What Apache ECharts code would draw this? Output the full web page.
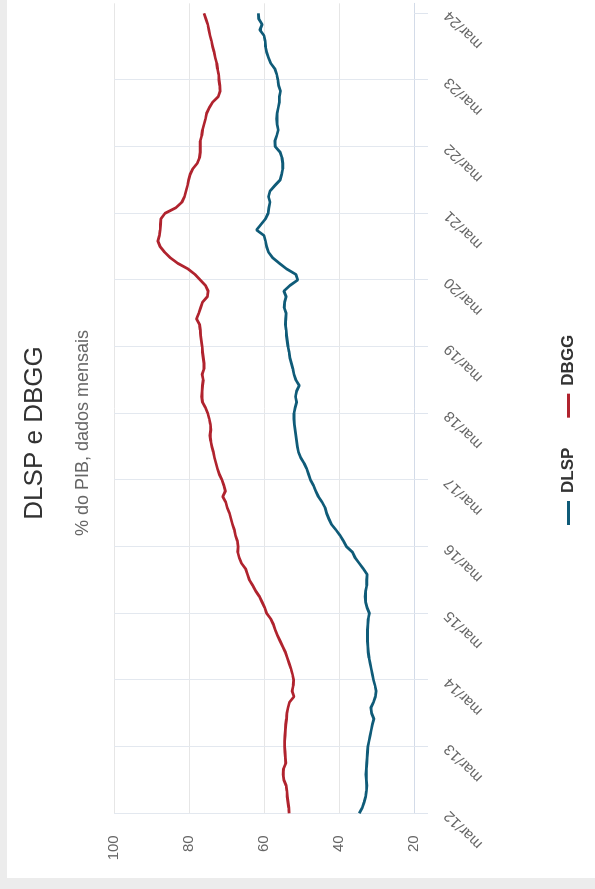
<!DOCTYPE html>
<html>
<head>
<meta charset="utf-8">
<script src="https://cdn.jsdelivr.net/npm/echarts@6/dist/echarts.min.js"></script>
<style>
  html, body { margin: 0; padding: 0; width: 595px; height: 889px; overflow: hidden; background: #ececec; }
  /* the chart is laid out landscape and turned a quarter turn to stand upright */
  #wrap { position: absolute; left: 0; top: 0; width: 889px; height: 595px; background: #ececec;
          transform-origin: 0 0; transform: translateY(889px) rotate(-90deg); }
  #panel { position: absolute; left: 11px; top: 7px; width: 878px; height: 588px; background: #fff; }
  #chart { position: absolute; left: 0; top: 0; width: 889px; height: 595px; }
</style>
</head>
<body>
<div id="wrap"><div id="panel"></div><div id="chart"></div></div>
<script>
// Year ticks (one every 12 months, starting March 2012)
const tickLabels = ['mar/12', 'mar/13', 'mar/14', 'mar/15', 'mar/16', 'mar/17', 'mar/18',
                    'mar/19', 'mar/20', 'mar/21', 'mar/22', 'mar/23', 'mar/24'];
const valueTicks = [20, 40, 60, 80, 100];

// Monthly series, % of GDP, Mar/2012 .. Mar/2024
const dlsp = [
  34.6, 33.8, 33.3, 32.9, 32.7, 32.6, 32.7, 32.8, 32.7, 32.6, 32.5, 32.4,
  32.3, 32.0, 31.7, 31.4, 31.1, 30.7, 31.3, 31.5, 30.8, 30.3, 30.1, 30.4,
  30.8, 31.1, 31.4, 31.7, 32.0, 32.2, 32.3, 32.4, 32.4, 32.4, 32.3, 32.2,
  31.9, 32.5, 32.9, 33.0, 32.9, 32.6, 32.6, 32.5, 33.5, 34.6, 35.7, 36.4,
  38.0, 38.8, 39.7, 40.8, 42.0, 42.7, 43.3, 43.7, 44.5, 45.5, 46.2, 46.8,
  47.6, 48.1, 48.6, 49.3, 50.2, 50.8, 51.1, 51.3, 51.5, 51.7, 51.9, 52.0,
  52.0, 51.7, 51.3, 51.6, 51.3, 50.6, 51.5, 52.0, 52.3, 52.7, 53.1, 53.3,
  53.6, 53.8, 54.0, 54.1, 54.3, 54.2, 54.1, 54.6, 54.5, 54.1, 54.7, 53.1,
  51.0, 51.5, 54.0, 55.9, 57.7, 58.8, 59.3, 59.6, 60.0, 62.0, 60.8, 59.6,
  58.9, 58.7, 58.4, 58.8, 58.4, 57.1, 55.7, 55.3, 55.0, 55.0, 55.2, 55.7,
  57.0, 57.1, 56.6, 56.2, 56.5, 56.6, 56.5, 56.2, 55.9, 55.9, 55.6, 56.1,
  56.3, 56.6, 57.1, 58.2, 58.8, 59.3, 59.6, 59.7, 60.0, 61.1, 60.5, 61.4,
  61.5
];
const dbgg = [
  53.3, 53.4, 53.6, 53.8, 53.9, 54.1, 54.7, 54.9, 54.8, 54.2, 54.3, 54.4,
  54.5, 54.5, 54.4, 54.3, 54.2, 54.0, 53.9, 53.6, 53.2, 52.0, 52.5, 52.2,
  52.1, 52.4, 52.8, 53.3, 53.8, 54.3, 55.0, 55.7, 56.4, 57.0, 57.5, 58.2,
  59.3, 59.8, 60.5, 61.2, 62.2, 63.0, 63.9, 64.4, 64.9, 66.0, 66.6, 67.0,
  66.9, 67.1, 67.6, 67.9, 68.4, 68.8, 69.2, 69.8, 70.2, 71.0, 70.3, 70.7,
  71.2, 71.9, 72.4, 72.8, 73.2, 73.5, 73.9, 74.2, 74.4, 74.2, 74.3, 74.6,
  75.0, 75.6, 76.4, 76.6, 76.5, 76.4, 76.2, 76.5, 76.0, 76.0, 76.2, 76.4,
  76.5, 76.7, 76.9, 77.0, 77.2, 78.0, 77.4, 76.9, 76.4, 75.1, 74.9, 75.6,
  77.0, 78.4, 80.3, 83.0, 85.0, 86.5, 87.7, 88.3, 87.9, 87.7, 87.6, 87.5,
  86.4, 83.5, 81.9, 81.2, 80.8, 80.4, 80.1, 79.7, 79.0, 77.8, 77.2, 77.0,
  77.0, 77.0, 76.6, 76.4, 76.0, 75.6, 75.3, 74.6, 73.7, 72.2, 71.7, 71.8,
  72.0, 72.1, 72.4, 72.6, 73.0, 73.3, 73.7, 74.0, 74.4, 74.7, 75.0, 75.5,
  76.0
];

const FONT = '"Liberation Sans", Arial, Helvetica, sans-serif';
const tickMonths = tickLabels.map((_, i) => i * 12);

const chart = echarts.init(document.getElementById('chart'), null, { renderer: 'canvas' });
chart.setOption({
  backgroundColor: 'transparent',
  animation: false,
  graphic: [
    { type: 'text', x: 456, y: 35,
      style: { text: 'DLSP e DBGG', fill: '#333333', font: '26px ' + FONT,
               textAlign: 'center', textVerticalAlign: 'middle' } },
    { type: 'text', x: 456, y: 83,
      style: { text: '% do PIB, dados mensais', fill: '#666666', font: '18px ' + FONT,
               textAlign: 'center', textVerticalAlign: 'middle' } }
  ],
  legend: {
    left: 359, top: 555,
    itemGap: 30, itemWidth: 24, itemHeight: 3, icon: 'rect',
    textStyle: { fontFamily: FONT, fontSize: 17, fontWeight: 'bold', color: '#333333', padding: [0, 0, 0, 3] },
    data: ['DLSP', 'DBGG']
  },
  grid: { left: 75.7, right: 3.3, top: 114, bottom: 181, containLabel: false, outerBoundsMode: 'none' },
  xAxis: {
    type: 'value', min: 0, max: 145.8, interval: 12,
    axisLine: { show: true, onZero: false, lineStyle: { color: '#d3dbe8', width: 1 } },
    axisTick: { show: true, length: 14, customValues: tickMonths, lineStyle: { color: '#dfe5ee' } },
    splitLine: { show: true, showMaxLine: false, lineStyle: { color: '#e3e8ef', width: 1 } },
    axisLabel: {
      customValues: tickMonths, rotate: 45, margin: 33,
      fontFamily: FONT, fontSize: 15, color: '#666666',
      formatter: v => tickLabels[Math.round(v / 12)] || ''
    }
  },
  yAxis: {
    type: 'value', min: 20, max: 100, interval: 20,
    axisLine: { show: false }, axisTick: { show: false },
    splitLine: { show: true, lineStyle: { color: '#e6e6e6', width: 1 } },
    axisLabel: { margin: 22, fontFamily: FONT, fontSize: 15, color: '#666666',
                 formatter: v => valueTicks.includes(v) ? String(v) : '' }
  },
  series: [
    { name: 'DLSP', type: 'line', showSymbol: false, symbol: 'none',
      data: dlsp.map((v, i) => [i, v]),
      lineStyle: { color: '#0f5b78', width: 2.8 }, itemStyle: { color: '#0f5b78' } },
    { name: 'DBGG', type: 'line', showSymbol: false, symbol: 'none',
      data: dbgg.map((v, i) => [i, v]),
      lineStyle: { color: '#b0232e', width: 2.8 }, itemStyle: { color: '#b0232e' } }
  ]
});
</script>
</body>
</html>
